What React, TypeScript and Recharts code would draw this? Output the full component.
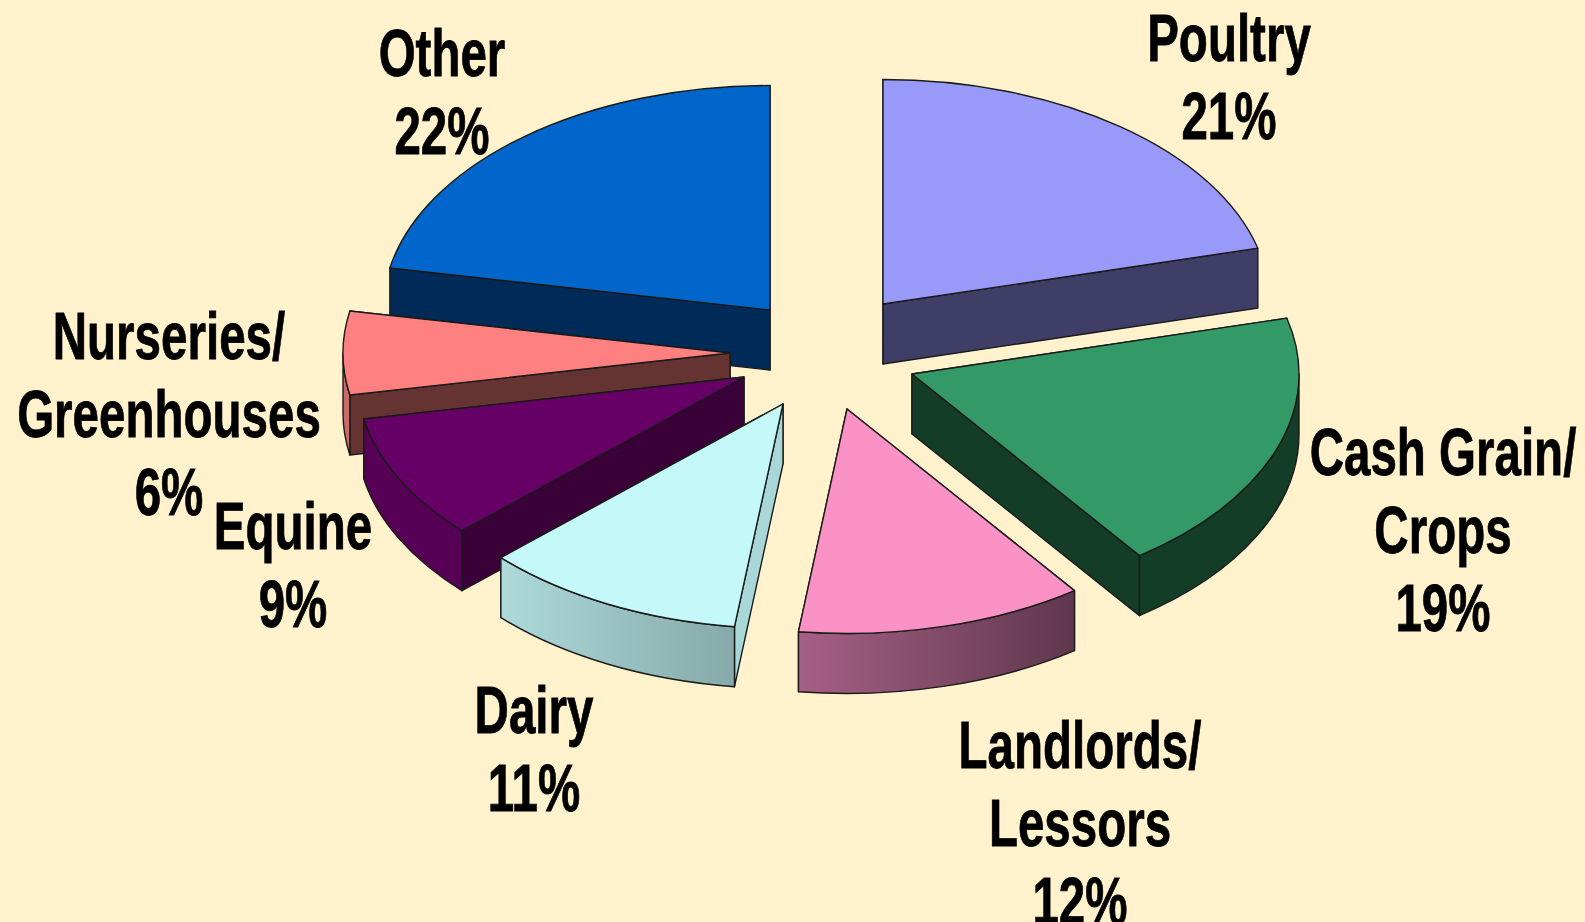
import * as React from 'react';
import { PieChart, Pie } from 'recharts';

// drawn back to front, counter-clockwise from 12 o'clock
const names = ['Other', 'Nurseries', 'Equine', 'Dairy', 'Landlords', 'Cash Grain', 'Poultry'];
const shares = [22, 6, 9, 11, 12, 19, 21];
const nameLines = [['Other'], ['Nurseries/', 'Greenhouses'], ['Equine'], ['Dairy'], ['Landlords/', 'Lessors'], ['Cash Grain/', 'Crops'], ['Poultry']];

const data = names.map((name, i) => ({ name, value: shares[i] }));

const WIDTH = 1585;
const HEIGHT = 922;
const CX = 800;
const CY = 350;
const RADIUS = 387;
const TILT = 0.58;
const DEPTH = 60;
const BG = '#FFF2CC';

// how far each slice is pulled out, and how it is painted
const explode: Record<string, [number, number]> = {
  Other: [-30, -40],
  Nurseries: [-70, 3],
  Equine: [-56, 27],
  Dairy: [-17, 54],
  Landlords: [47, 59],
  'Cash Grain': [112, 24],
  Poultry: [83, -46],
};
const faceColors: Record<string, string> = {
  Other: '#0066CC',
  Nurseries: '#FF8080',
  Equine: '#660066',
  Dairy: '#C5F9F9',
  Landlords: '#FA92C6',
  'Cash Grain': '#339966',
  Poultry: '#9999FA',
};
const wallColors: Record<string, string> = {
  Other: '#002A57',
  Nurseries: '#663333',
  Equine: '#3A0038',
  Dairy: 'url(#dairyWall)',
  Landlords: 'url(#landlordWall)',
  'Cash Grain': '#133D26',
  Poultry: '#3E3E66',
};
const sideColors: Record<string, string> = { Dairy: '#A9D6D6', Landlords: '#66384F' };
const rimColors: Record<string, string> = { Equine: '#560056', Nurseries: '#C96A6A' };

// centre x, baseline of first line
const labelSpots: Record<string, [number, number]> = {
  Other: [442, 76],
  Nurseries: [169, 359],
  Equine: [293, 549],
  Dairy: [534, 733],
  Landlords: [1080, 768],
  'Cash Grain': [1443, 475],
  Poultry: [1229, 61],
};
const LABEL_SQUEEZE = 0.72;

const rad = (d: number) => (d * Math.PI) / 180;

function Slice3D(props: any) {
  const { name, startAngle, endAngle, outerRadius, cx, cy } = props;
  const key = name ?? props.payload?.name;
  const [ox, oy] = explode[key];
  const ax = cx + ox;
  const ay = cy + oy;
  const a = outerRadius;
  const b = outerRadius * TILT;

  const hi = Math.max(startAngle, endAngle);
  const lo = Math.min(startAngle, endAngle);
  let t0 = 90 - hi;
  if (t0 < 0) t0 += 360;
  const t1 = t0 + (hi - lo);

  const pt = (t: number) => [ax + a * Math.sin(rad(t)), ay - b * Math.cos(rad(t))];
  const [x0, y0] = pt(t0);
  const [x1, y1] = pt(t1);
  const large = t1 - t0 > 180 ? 1 : 0;
  const face = `M${ax},${ay} L${x0},${y0} A${a},${b} 0 ${large} 1 ${x1},${y1} Z`;

  const side = (x: number, y: number) =>
    `M${ax},${ay} L${x},${y} L${x},${y + DEPTH} L${ax},${ay + DEPTH} Z`;
  // far cut face goes down first
  const sides = y0 < y1 ? [side(x0, y0), side(x1, y1)] : [side(x1, y1), side(x0, y0)];

  // rim only shows on the near half of the ellipse
  const r0 = Math.max(t0, 90);
  const r1 = Math.min(t1, 270);
  let rim = '';
  if (r1 > r0) {
    const [rx0, ry0] = pt(r0);
    const [rx1, ry1] = pt(r1);
    rim = `M${rx0},${ry0} A${a},${b} 0 0 1 ${rx1},${ry1} L${rx1},${ry1 + DEPTH} A${a},${b} 0 0 0 ${rx0},${ry0 + DEPTH} Z`;
  }

  const wall = sideColors[key] ?? wallColors[key];
  const line = { stroke: '#1a1a1a', strokeWidth: 1.4, strokeLinejoin: 'round' as const };
  return (
    <g>
      <path d={sides[0]} fill={wall} {...line} />
      <path d={sides[1]} fill={wall} {...line} />
      {rim && <path d={rim} fill={rimColors[key] ?? wallColors[key]} {...line} />}
      <path d={face} fill={faceColors[key]} {...line} />
    </g>
  );
}

function SliceLabel(props: any) {
  const key = props.name ?? props.payload?.name;
  const i = names.indexOf(key);
  const [x, y] = labelSpots[key];
  const lines = [...nameLines[i], `${shares[i]}%`];
  // no narrow face installed, so squeeze the bold one
  return (
    <text
      transform={`translate(${x},${y}) scale(${LABEL_SQUEEZE},1)`}
      textAnchor="middle"
      fontFamily="'Liberation Sans', Arial, sans-serif"
      fontWeight={700}
      fontSize={66}
      fill="#000"
      stroke="#000"
      strokeWidth={0.8}
    >
      {lines.map((l, n) => (
        <tspan key={l} x={0} dy={n === 0 ? 0 : 78}>
          {l}
        </tspan>
      ))}
    </text>
  );
}

export default function App() {
  return (
    <div style={{ position: 'fixed', left: 0, top: 0, width: WIDTH, height: HEIGHT, background: BG, overflow: 'hidden' }}>
      <PieChart width={WIDTH} height={HEIGHT} margin={{ top: 0, right: 0, bottom: 0, left: 0 }}>
        <defs>
          <linearGradient id="dairyWall" x1="0" y1="0" x2="1" y2="0">
            <stop offset="0%" stopColor="#AEDADA" />
            <stop offset="100%" stopColor="#86A9A9" />
          </linearGradient>
          <linearGradient id="landlordWall" x1="0" y1="0" x2="1" y2="0">
            <stop offset="0%" stopColor="#A56085" />
            <stop offset="100%" stopColor="#5F374C" />
          </linearGradient>
        </defs>
        <Pie
          data={data}
          dataKey="value"
          nameKey="name"
          cx={CX}
          cy={CY}
          innerRadius={0}
          outerRadius={RADIUS}
          startAngle={90}
          endAngle={450}
          stroke="none"
          shape={Slice3D}
          label={SliceLabel}
          labelLine={false}
          isAnimationActive={false}
        />
      </PieChart>
    </div>
  );
}
